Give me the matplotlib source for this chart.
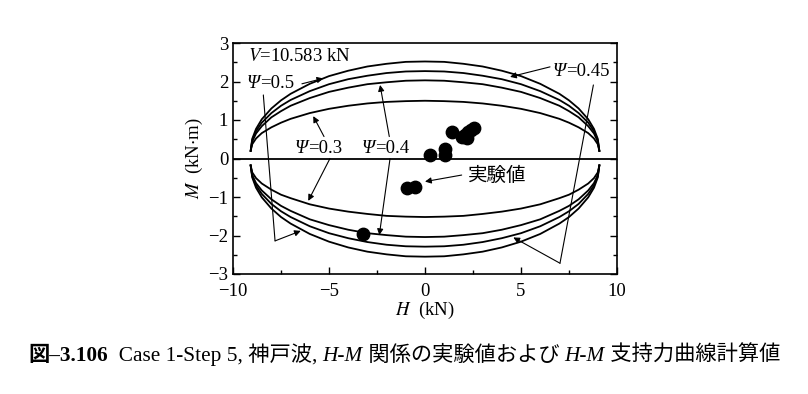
import matplotlib.pyplot as plt
from matplotlib.ticker import MultipleLocator

plt.rcParams['font.family'] = ['Liberation Serif', 'Noto Sans CJK JP']
plt.rcParams['mathtext.fontset'] = 'stix'
plt.rcParams['axes.unicode_minus'] = True

# H grid shared by all capacity curves (kN)
H_grid = [-9.08, -9.0, -8.8, -8.5, -8.0, -7.5, -7.0, -6.0, -5.0, -4.0, -3.0, -2.0, -1.0, 0.0,
          1.0, 2.0, 3.0, 4.0, 5.0, 6.0, 7.0, 7.5, 8.0, 8.5, 8.8, 9.0, 9.08]

# upper branches (kN·m)
M_up_030 = [0.20, 0.37, 0.52, 0.66, 0.81, 0.93, 1.03, 1.18, 1.29, 1.37, 1.43, 1.47, 1.49, 1.50,
            1.49, 1.47, 1.43, 1.37, 1.29, 1.18, 1.03, 0.93, 0.81, 0.66, 0.52, 0.37, 0.20]
M_up_040 = [0.20, 0.44, 0.65, 0.84, 1.07, 1.23, 1.37, 1.57, 1.73, 1.84, 1.93, 1.98, 2.02, 2.03,
            2.02, 1.98, 1.93, 1.84, 1.73, 1.57, 1.37, 1.23, 1.07, 0.84, 0.65, 0.44, 0.20]
M_up_045 = [0.20, 0.47, 0.71, 0.93, 1.18, 1.37, 1.52, 1.75, 1.93, 2.06, 2.15, 2.22, 2.26, 2.27,
            2.26, 2.22, 2.15, 2.06, 1.93, 1.75, 1.52, 1.37, 1.18, 0.93, 0.71, 0.47, 0.20]
M_up_050 = [0.20, 0.51, 0.77, 1.02, 1.30, 1.51, 1.68, 1.94, 2.14, 2.28, 2.39, 2.46, 2.51, 2.52,
            2.51, 2.46, 2.39, 2.28, 2.14, 1.94, 1.68, 1.51, 1.30, 1.02, 0.77, 0.51, 0.20]

# lower branches (kN·m)
M_lo_030 = [-0.18, -0.36, -0.51, -0.65, -0.81, -0.94, -1.03, -1.19, -1.30, -1.38, -1.44, -1.49, -1.51, -1.52,
            -1.51, -1.49, -1.44, -1.38, -1.30, -1.19, -1.03, -0.94, -0.81, -0.65, -0.51, -0.36, -0.18]
M_lo_040 = [-0.18, -0.43, -0.64, -0.83, -1.06, -1.23, -1.36, -1.58, -1.73, -1.85, -1.94, -1.99, -2.03, -2.04,
            -2.03, -1.99, -1.94, -1.85, -1.73, -1.58, -1.36, -1.23, -1.06, -0.83, -0.64, -0.43, -0.18]
M_lo_045 = [-0.18, -0.46, -0.70, -0.92, -1.18, -1.37, -1.52, -1.76, -1.94, -2.07, -2.17, -2.24, -2.28, -2.29,
            -2.28, -2.24, -2.17, -2.07, -1.94, -1.76, -1.52, -1.37, -1.18, -0.92, -0.70, -0.46, -0.18]
M_lo_050 = [-0.18, -0.49, -0.76, -1.01, -1.30, -1.52, -1.69, -1.96, -2.16, -2.31, -2.42, -2.49, -2.54, -2.55,
            -2.54, -2.49, -2.42, -2.31, -2.16, -1.96, -1.69, -1.52, -1.30, -1.01, -0.76, -0.49, -0.18]

# experimental values
exp_H = [1.39, 0.26, 1.04, 1.04, 1.95, 2.10, 2.25, 2.40, 2.55, 2.20, -0.96, -0.52, -3.21]
exp_M = [0.70, 0.10, 0.25, 0.08, 0.55, 0.62, 0.68, 0.74, 0.79, 0.52, -0.76, -0.75, -1.97]

x_ticks = [-10, -5, 0, 5, 10]
y_ticks = [-3, -2, -1, 0, 1, 2, 3]

fig = plt.figure(figsize=(8.08, 3.94), dpi=100)
ax = fig.add_axes([233/808, 1-274/394, 384/808, 231/394])

for m in [M_up_030, M_up_040, M_up_045, M_up_050, M_lo_030, M_lo_040, M_lo_045, M_lo_050]:
    ax.plot(H_grid, m, color='black', lw=1.3)
ax.axhline(0, color='black', lw=1.3)
ax.scatter(exp_H, exp_M, s=80, color='black', zorder=3)

ax.set_xlim(-10, 10)
ax.set_ylim(-3, 3)
ax.set_xticks(x_ticks)
ax.set_yticks(y_ticks)
ax.xaxis.set_minor_locator(MultipleLocator(2.5))
ax.yaxis.set_minor_locator(MultipleLocator(0.5))
ax.tick_params(which='both', direction='in', right=True, top=False, labelsize=13.5, width=1)
ax.tick_params(which='major', length=5)
ax.tick_params(which='minor', length=3)
ax.tick_params(axis='x', pad=6.5)
for sp in ax.spines.values():
    sp.set_linewidth(1.2)

ax.set_xlabel(r'$H$  (kN)', fontsize=13.5, labelpad=0)
ax.set_ylabel(r'$M$  (kN$\cdot$m)', fontsize=13.5, labelpad=2)

fs = 13.5
ap = dict(arrowstyle='-|>', color='black', lw=0.8, mutation_scale=9, shrinkA=0, shrinkB=0)
ln = dict(arrowstyle='-', color='black', lw=0.8, shrinkA=0, shrinkB=0)


def psi_label(x, y, value):
    # italic Psi followed by upright "=value", sharing one baseline
    t = ax.text(x, y, 'Ψ', fontsize=fs, style='italic', va='center', ha='left')
    ax.annotate('=' + value, xy=(1, 0), xycoords=t, va='bottom', ha='left', fontsize=fs)


ax.text(-9.22, 2.66, r'$V$=10.583 kN', fontsize=fs, va='center', ha='left')

# psi = 0.5
psi_label(-9.29, 1.95, '0.5')
ax.annotate('', xy=(-5.30, 2.08), xytext=(-6.41, 1.94), arrowprops=ap)
ax.annotate('', xy=(-7.81, -2.14), xytext=(-8.42, 1.65), arrowprops=ln)
ax.annotate('', xy=(-6.47, -1.88), xytext=(-7.81, -2.14), arrowprops=ap)

# psi = 0.45
psi_label(6.67, 2.25, '0.45')
ax.annotate('', xy=(4.43, 2.12), xytext=(6.51, 2.38), arrowprops=ap)
ax.annotate('', xy=(7.03, -2.72), xytext=(8.77, 1.91), arrowprops=ln)
ax.annotate('', xy=(4.60, -2.05), xytext=(7.03, -2.72), arrowprops=ap)

# psi = 0.3
psi_label(-6.77, 0.26, '0.3')
ax.annotate('', xy=(-5.82, 1.10), xytext=(-5.26, 0.57), arrowprops=ap)
ax.annotate('', xy=(-6.08, -1.10), xytext=(-4.95, 0.0), arrowprops=ap)

# psi = 0.4
psi_label(-3.30, 0.26, '0.4')
ax.annotate('', xy=(-2.34, 1.91), xytext=(-1.86, 0.57), arrowprops=ap)
ax.annotate('', xy=(-2.38, -1.99), xytext=(-1.82, 0.0), arrowprops=ap)

# experimental label
ax.text(2.24, -0.43, '実験値', fontsize=14, va='center', ha='left',
        family=['Noto Sans CJK JP'])
ax.annotate('', xy=(0.0, -0.60), xytext=(1.91, -0.43), arrowprops=ap)

# caption, laid out piece by piece on a common baseline
caption = [
    ('図–3.106', dict(weight='bold')),
    ('  Case 1-Step 5, 神戸波, ', dict()),
    ('H-M', dict(style='italic')),
    (' 関係の実験値および ', dict()),
    ('H-M', dict(style='italic')),
    (' 支持力曲線計算値', dict()),
]
renderer = fig.canvas.get_renderer()
x = 28 / 808
for s, kw in caption:
    t = fig.text(x, 1 - 361/394, s, fontsize=15.3, va='baseline', ha='left', **kw)
    bb = t.get_window_extent(renderer)
    x = bb.x1 / fig.bbox.width

fig.savefig('out.png', dpi=100)
